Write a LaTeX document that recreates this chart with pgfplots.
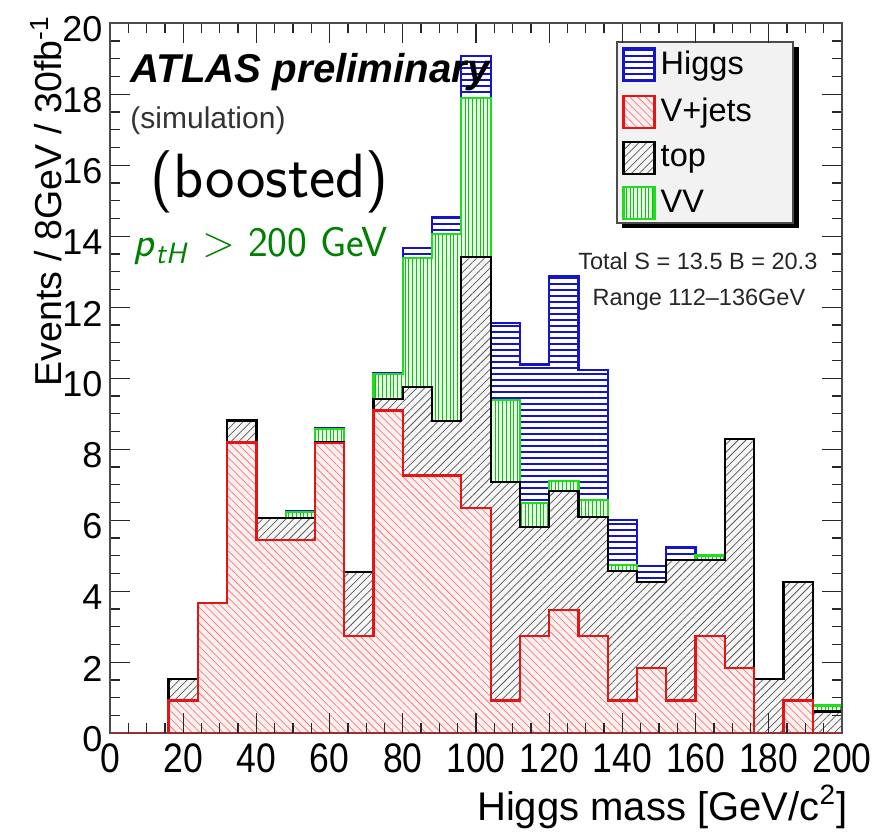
\documentclass[border=0pt]{standalone}
\usepackage{fontspec}
\setmainfont{Liberation Sans}
\newfontfamily\narrowfont[FakeStretch=0.86]{Liberation Sans}
\usepackage{pgfplots}
\pgfplotsset{compat=1.18}
\usepackage{pgfplotstable}
\usetikzlibrary{patterns.meta}

\definecolor{hblue}{RGB}{20,20,200}
\definecolor{vred}{RGB}{230,20,20}
\definecolor{vvgreen}{RGB}{30,220,30}
\definecolor{ptgreen}{RGB}{0,128,0}

% cumulative stack heights per 8 GeV bin (lower bin edge), last row closes the last bin
\pgfplotstableread{
x    vj    vjtop  vjtopvv total
0    0     0      0       0
8    0     0      0       0
16   0.92  1.52   1.52    1.52
24   3.66  3.66   3.66    3.66
32   8.19  8.81   8.81    8.81
40   5.45  6.06   6.06    6.06
48   5.45  6.06   6.23    6.25
56   8.17  8.20   8.57    8.60
64   2.74  4.55   4.55    4.55
72   9.09  9.41   10.11   10.15
80   7.26  9.75   13.38   13.66
88   7.26  8.80   14.06   14.54
96   6.34  13.41  17.90   19.08
104  0.92  7.07   9.39    11.55
112  2.74  5.82   6.48    10.39
120  3.47  6.83   7.11    12.88
128  2.74  6.10   6.57    10.23
136  0.92  4.58   4.74    6.01
144  1.83  4.27   4.27    4.72
152  0.92  4.88   4.88    5.23
160  2.74  4.88   5.01    5.01
168  1.83  8.28   8.28    8.28
176  0     1.52   1.52    1.52
184  0.92  4.27   4.27    4.27
192  0     0.61   0.78    0.78
200  0     0.61   0.78    0.78
}\histdata

\pgfplotsset{
  higgsst/.style={draw=hblue, line width=0.9pt, fill=white,
    postaction={pattern={Lines[angle=0,distance=2.4pt,line width=0.45pt]}, pattern color=hblue}},
  vjst/.style={draw=vred, line width=0.9pt, fill=red!6,
    postaction={pattern={Lines[angle=-45,distance=2.2pt,line width=0.3pt]}, pattern color=vred!55}},
  topst/.style={draw=black, line width=0.9pt, fill=black!3,
    postaction={pattern={Lines[angle=45,distance=2.2pt,line width=0.3pt]}, pattern color=black!65}},
  vvst/.style={draw=vvgreen, line width=0.9pt, fill=green!10,
    postaction={pattern={Lines[angle=90,distance=1.5pt,line width=0.35pt]}, pattern color=vvgreen!85!black}},
}

\begin{document}
\begin{tikzpicture}
\begin{axis}[
  scale only axis, width=292.8pt, height=284pt,
  xmin=0, xmax=200, ymin=0, ymax=20,
  xtick={0,20,...,200}, ytick={0,2,...,20},
  minor x tick num=3, minor y tick num=3,
  major tick length=8pt, minor tick length=4pt,
  axis on top, clip mode=individual,
  axis line style={black!70, line width=0.6pt},
  every tick/.style={black!85, line width=0.5pt},
  /pgf/number format/assume math mode=true,
  xticklabel style={font=\narrowfont\fontsize{16.5}{16.5}\selectfont, inner ysep=0pt, yshift=-4pt},
  yticklabel style={font=\fontsize{14.4}{14.4}\selectfont, inner xsep=0pt, xshift=-2.8pt, yshift=-2.5pt},
  legend image code/.code={\draw[#1] (0pt,-6.4pt) rectangle (12.4pt,6.4pt);},
  legend cell align=left,
  legend style={at={(rel axis cs:0.6926,0.976)}, anchor=north west,
    fill=none, draw=none,
    font=\fontsize{13}{13}\selectfont, inner xsep=2pt, inner ysep=2pt,
    row sep=4pt},
]
\addplot[higgsst, const plot mark left, forget plot] table[x=x, y=total] {\histdata} \closedcycle;
\addplot[vvst, const plot mark left, forget plot] table[x=x, y=vjtopvv] {\histdata} \closedcycle;
\addplot[topst, const plot mark left, forget plot] table[x=x, y=vjtop] {\histdata} \closedcycle;
\addplot[vjst, const plot mark left, forget plot] table[x=x, y=vj] {\histdata} \closedcycle;

% legend frame with shadow
\fill[black] ([xshift=2.2pt, yshift=-2.2pt]rel axis cs:0.6926,0.7187) rectangle ([xshift=2.2pt, yshift=-2.2pt]rel axis cs:0.9331,0.9737);
\draw[fill=black!5, draw=black!70, line width=0.5pt] (rel axis cs:0.6926,0.7187) rectangle (rel axis cs:0.9331,0.9737);

\addlegendimage{higgsst}\addlegendentry{Higgs}
\addlegendimage{vjst}\addlegendentry{V+jets}
\addlegendimage{topst}\addlegendentry{top}
\addlegendimage{vvst}\addlegendentry{VV}

\node[anchor=base west, inner sep=0pt, font=\bfseries\itshape\fontsize{16.1}{16.1}\selectfont]
  at (rel axis cs:0.0273,0.916) {ATLAS preliminary};
\node[anchor=base west, inner sep=0pt, text=black!80, font=\fontsize{12}{12}\selectfont]
  at (rel axis cs:0.0273,0.852) {(simulation)};
\node[anchor=base west, inner sep=0pt, font=\sffamily\fontsize{25}{25}\selectfont]
  at (rel axis cs:0.0546,0.754) {(boosted)};
\node[anchor=base west, inner sep=0pt, text=ptgreen, font=\sffamily\fontsize{16.8}{16.8}\selectfont]
  at (rel axis cs:0.0314,0.671) {\textit{p}\textsubscript{\textit{tH}} $>$ 200 GeV};
\node[anchor=base, inner sep=0pt, text=black!85, font=\fontsize{9.4}{9.4}\selectfont]
  at (rel axis cs:0.803,0.6525) {Total S = 13.5 B = 20.3};
\node[anchor=base, inner sep=0pt, text=black!85, font=\fontsize{9.4}{9.4}\selectfont]
  at (rel axis cs:0.8046,0.603) {Range 112--136GeV};

\node[rotate=90, anchor=base east, inner sep=0pt, font=\fontsize{15}{15}\selectfont]
  at ([xshift=-19.2pt, yshift=3.2pt]rel axis cs:0,1) {Events / 8GeV / 30fb\textsuperscript{-1}};
\node[anchor=base east, inner sep=0pt, font=\fontsize{16}{16}\selectfont]
  at ([xshift=2.4pt, yshift=-34.8pt]rel axis cs:1,0) {Higgs mass [GeV/c\textsuperscript{2}]};

\coordinate (SW) at (rel axis cs:0,0);
\coordinate (NE) at (rel axis cs:1,1);
\end{axis}
\pgfresetboundingbox
\path[use as bounding box] ([shift={(-44pt,-41.1pt)}]SW) rectangle ([shift={(16.4pt,9.3pt)}]NE);
\end{tikzpicture}
\end{document}
